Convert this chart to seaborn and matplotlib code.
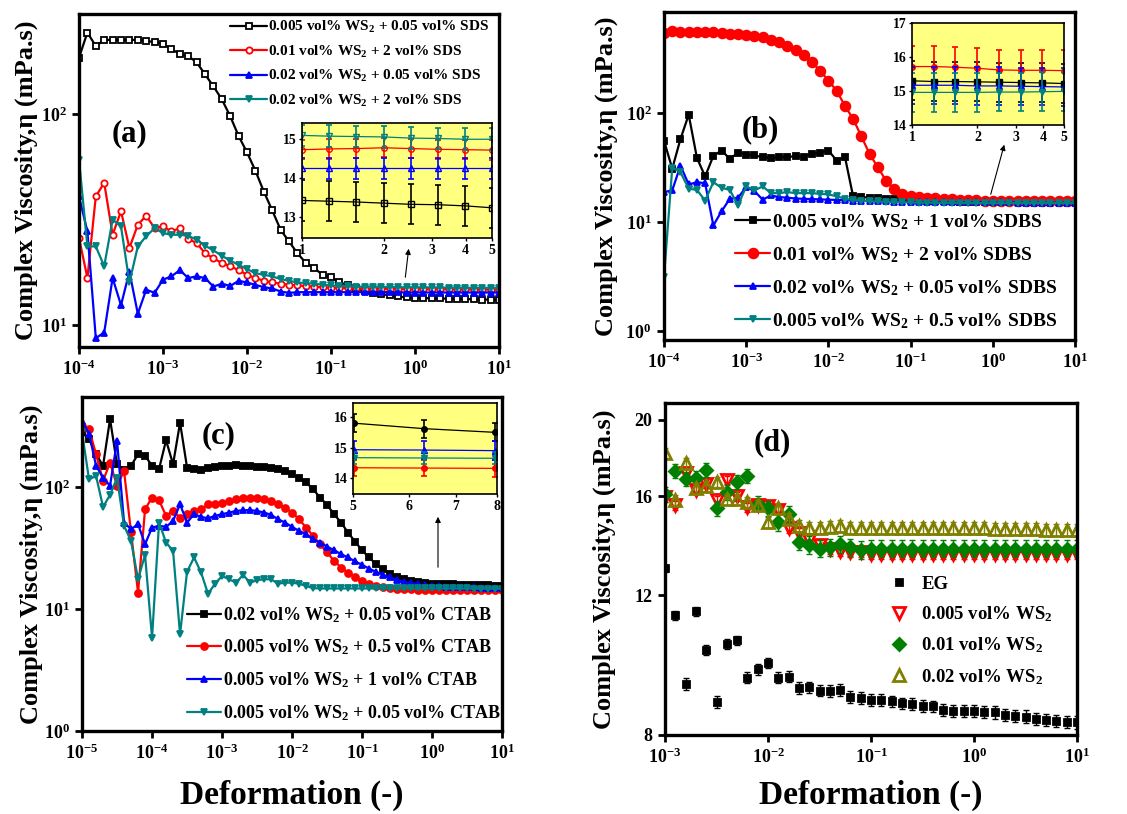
import numpy as np
import matplotlib
matplotlib.use('Agg')
import matplotlib.pyplot as plt
import seaborn as sns
from matplotlib.ticker import LogLocator, NullLocator, FixedLocator, FixedFormatter

# ---------------- data ----------------
# deformation sweeps, 10 points per decade
x_ab = np.logspace(-4, 1, 51)
x_c = np.logspace(-5, 1, 61)
x_d = np.logspace(-3, 1, 41)

# (a) SDS
a_black = [186, 245, 211, 226, 226, 226, 226, 226, 223, 221,
           217, 204, 194, 189, 177, 155, 136, 118, 98, 79,
           66, 54, 43, 35, 28.3, 24.9, 21.9, 19.7, 18.6, 17.3,
           16.8, 16.0, 15.4, 14.9, 14.5, 14.2, 14.0, 13.8, 13.65, 13.5,
           13.42, 13.40, 13.38, 13.35, 13.32, 13.31, 13.28, 13.23, 13.2, 13.18,
           13.15]
a_red = [25.9, 16.7, 40.8, 47.3, 26.8, 34.7, 23.2, 29.9, 33, 28.8,
         29.4, 27.8, 28.8, 25.6, 24.5, 21.9, 20.7, 19.7, 19.0, 18.2,
         17.3, 16.7, 16.2, 15.9, 15.7, 15.5, 15.4, 15.3, 15.2, 15.1,
         15.0, 15.0, 14.9, 14.9, 14.85, 14.8, 14.8, 14.8, 14.8, 14.75,
         14.73, 14.75, 14.76, 14.78, 14.76, 14.74, 14.73, 14.72, 14.72, 14.71,
         14.7]
a_blue = [40.8, 27.8, 8.65, 9.2, 16.7, 12.4, 17.9, 11.3, 14.7, 14.2,
          16.4, 17.0, 18.2, 16.7, 17.0, 16.7, 15.2, 15.7, 15.3, 16.2,
          15.9, 15.5, 15.1, 14.9, 14.4, 14.2, 14.3, 14.3, 14.3, 14.3,
          14.3, 14.3, 14.3, 14.3, 14.3, 14.3, 14.3, 14.3, 14.3, 14.25,
          14.25, 14.25, 14.25, 14.25, 14.25, 14.25, 14.25, 14.25, 14.25, 14.25,
          14.25]
a_teal = [61, 23.6, 23.6, 19.0, 31.6, 29.4, 15.9, 23.6, 26.4, 28.8,
          27.3, 26.8, 26.8, 26.5, 25.4, 23.8, 22.6, 21.3, 20.2, 19.3,
          18.4, 17.6, 17.3, 17.0, 16.5, 16.2, 15.9, 15.8, 15.7, 15.5,
          15.4, 15.3, 15.3, 15.2, 15.2, 15.2, 15.15, 15.15, 15.1, 15.1,
          15.1, 15.08, 15.07, 15.06, 15.03, 15.02, 15.0, 15.0, 15.0, 15.0,
          15.0]
a_labels = ['0.005 vol% WS$_2$ + 0.05 vol% SDS', '0.01 vol% WS$_2$ + 2 vol% SDS',
            '0.02 vol% WS$_2$ + 0.05 vol% SDS', '0.02 vol% WS$_2$ + 2 vol% SDS']
a_err = [0.52, 0.25, 0.27, 0.28]

# (b) SDBS
b_black = [56, 31, 58, 97, 39, 26.3, 40.6, 45.5, 38.2, 43.4,
           41.8, 41, 39.5, 39, 39.5, 39.8, 40.2, 39.8, 42.4, 43.4,
           45.5, 36.8, 40, 17.3, 17.0, 16.8, 16.6, 16.5, 16.4, 16.2,
           16.0, 15.9, 15.8, 15.7, 15.6, 15.5, 15.45, 15.4, 15.35, 15.33,
           15.3, 15.28, 15.28, 15.27, 15.26, 15.25, 15.24, 15.22, 15.22, 15.21,
           15.2]
b_red = [545, 565, 560, 558, 558, 555, 555, 545, 533, 533,
         525, 514, 497, 473, 447, 411, 383, 342, 293, 246,
         199, 161, 117, 88.7, 61.5, 42.4, 32, 24.1, 20.3, 18.2,
         17.3, 17.0, 16.8, 16.6, 16.4, 16.2, 16.1, 16.0, 15.9, 15.8,
         15.72, 15.72, 15.7, 15.67, 15.62, 15.61, 15.61, 15.6, 15.6, 15.6,
         15.6]
b_blue = [18.9, 19.6, 33.1, 22.2, 23.3, 22.8, 9.35, 12.6, 16.4, 16.8,
          21, 19.3, 16.1, 17.6, 17.0, 16.8, 16.5, 16.4, 16.3, 16.2,
          16.1, 16.0, 15.9, 15.8, 15.7, 15.6, 15.5, 15.5, 15.4, 15.4,
          15.3, 15.3, 15.3, 15.25, 15.2, 15.2, 15.2, 15.2, 15.2, 15.18,
          15.17, 15.17, 15.17, 15.15, 15.15, 15.14, 15.13, 15.12, 15.12, 15.12,
          15.12]
b_teal = [3.15, 31.6, 28.8, 20.3, 19.8, 15.8, 23.3, 20.7, 19.8, 14.3,
          21.3, 19.6, 21.3, 18.5, 18.5, 18.9, 18.5, 18.5, 18.5, 18.2,
          18.0, 17.3, 16.4, 16.0, 15.8, 15.6, 15.5, 15.4, 15.3, 15.2,
          15.2, 15.1, 15.1, 15.05, 15.0, 15.0, 15.0, 15.0, 14.98, 14.97,
          14.96, 14.96, 14.96, 14.96, 14.97, 14.97, 14.98, 14.99, 14.99, 15.0,
          15.0]
b_labels = ['0.005 vol% WS$_2$ + 1 vol% SDBS', '0.01 vol% WS$_2$ + 2 vol% SDBS',
            '0.02 vol% WS$_2$ + 0.05 vol% SDBS', '0.005 vol% WS$_2$ + 0.5 vol% SDBS']
b_err = [0.57, 0.6, 0.55, 0.57]

# (c) CTAB
c_black = [279, 246, 185, 149, 359, 153, 137, 149, 185, 180,
           149, 140, 241, 153, 336, 144, 140, 138, 142, 146,
           147, 147, 150, 149, 148, 146, 146, 144, 140, 135,
           127, 118, 109, 95.7, 81.7, 71.2, 59.7, 51, 42.2, 35.6,
           30.2, 26.4, 23.2, 21.1, 19.5, 18.3, 17.5, 17.0, 16.6, 16.3,
           16.1, 16.0, 15.95, 15.9, 15.85, 15.82, 15.8, 15.8, 15.62, 15.5,
           15.45]
c_red = [316, 297, 185, 112, 158, 102, 135, 42.3, 13.6, 65.6,
         81.8, 77.7, 57.9, 63.5, 56, 59.7, 63.5, 65.6, 72, 72,
         74.4, 76.8, 79.2, 80.8, 80.8, 80.8, 79.2, 76.8, 72, 67.7,
         61.6, 54.3, 46.4, 39.7, 33.9, 29, 24.8, 21.8, 19.8, 18.1,
         17.0, 15.9, 15.4, 15.0, 14.7, 14.6, 14.5, 14.5, 14.4, 14.4,
         14.4, 14.4, 14.35, 14.35, 14.35, 14.35, 14.34, 14.34, 14.33, 14.32,
         14.3]
c_blue = [347, 273, 149, 119, 102, 238, 51, 45, 49.4, 33.9,
          46.4, 48, 47, 52.6, 72, 51, 59.7, 56.8, 55.3, 57.9,
          59.7, 61.6, 63.5, 64.4, 64.4, 63.5, 61.6, 59, 54.3, 51,
          47, 43.6, 40.9, 37.3, 35, 32.4, 30.3, 28.1, 26.4, 24.5,
          23, 21.4, 20.1, 19.0, 18.1, 17.3, 16.7, 16.2, 15.9, 15.6,
          15.4, 15.3, 15.2, 15.15, 15.1, 15.05, 15.0, 14.93, 14.92, 14.9,
          14.88]
c_teal = [279, 115, 123, 68.5, 86, 118, 48, 36, 17.5, 27.7,
          5.8, 51, 35, 29.9, 6.2, 20.2, 26.4, 19.9, 13.3, 16.1,
          18.6, 17.5, 16.4, 19.0, 16.4, 17.2, 17.5, 17.5, 16.1, 16.4,
          16.4, 16.1, 15.4, 14.8, 14.7, 14.7, 14.7, 14.7, 14.7, 14.7,
          14.7, 14.7, 14.7, 14.7, 14.7, 14.7, 14.7, 14.7, 14.7, 14.7,
          14.7, 14.7, 14.7, 14.7, 14.7, 14.7, 14.68, 14.67, 14.66, 14.65,
          14.65]
c_labels = ['0.02 vol% WS$_2$ + 0.05 vol% CTAB', '0.005 vol% WS$_2$ + 0.5 vol% CTAB',
            '0.005 vol% WS$_2$ + 1 vol% CTAB', '0.005 vol% WS$_2$ + 0.05 vol% CTAB']
c_err = [0.3, 0.27, 0.3, 0.2]

# (d) WS2 in EG
d_eg = [12.98, 11.33, 9.28, 11.47, 10.25, 8.80, 10.43, 10.53, 9.45, 9.68,
        9.86, 9.45, 9.48, 9.17, 9.19, 9.10, 9.09, 9.12, 8.94, 8.91,
        8.86, 8.86, 8.82, 8.77, 8.75, 8.70, 8.69, 8.61, 8.58, 8.58,
        8.58, 8.56, 8.54, 8.48, 8.46, 8.44, 8.38, 8.35, 8.33, 8.31,
        8.30]
d_red = [15.96, 15.6, 17.15, 16.31, 16.6, 15.84, 16.8, 16.0, 15.5, 15.6,
         15.55, 15.4, 14.59, 14.4, 14.1, 13.9, 13.75, 13.64, 13.6, 13.6,
         13.55, 13.55, 13.55, 13.55, 13.55, 13.55, 13.55, 13.55, 13.55, 13.55,
         13.55, 13.55, 13.55, 13.55, 13.55, 13.55, 13.55, 13.55, 13.55, 13.55,
         13.55]
d_green = [16.1, 17.25, 16.83, 16.88, 17.3, 15.46, 16.2, 16.7, 17.0, 15.67,
           15.46, 14.84, 15.2, 14.03, 13.9, 13.75, 13.8, 13.93, 13.8, 13.7,
           13.75, 13.75, 13.75, 13.75, 13.75, 13.75, 13.75, 13.75, 13.75, 13.75,
           13.75, 13.75, 13.75, 13.75, 13.75, 13.75, 13.75, 13.75, 13.75, 13.75,
           13.75]
d_olive = [18.15, 15.84, 17.62, 16.4, 16.5, 16.7, 15.87, 15.87, 15.73, 15.6,
           14.84, 15.46, 15.0, 14.7, 14.6, 14.6, 14.66, 14.7, 14.6, 14.6,
           14.6, 14.6, 14.6, 14.6, 14.6, 14.6, 14.6, 14.6, 14.6, 14.6,
           14.6, 14.6, 14.55, 14.55, 14.55, 14.55, 14.55, 14.5, 14.5, 14.5,
           14.5]
d_labels = ['EG', '0.005 vol% WS$_2$', '0.01 vol% WS$_2$', '0.02 vol% WS$_2$']
d_err = [0.15, 0.2, 0.35, 0.25]

# ---------------- style ----------------
sns.set_style('ticks')
plt.rcParams['font.family'] = ['Liberation Serif', 'DejaVu Serif']
plt.rcParams['font.weight'] = 'bold'
plt.rcParams['mathtext.fontset'] = 'custom'
plt.rcParams['mathtext.rm'] = 'Liberation Serif:bold'
plt.rcParams['mathtext.bf'] = 'Liberation Serif:bold'
plt.rcParams['mathtext.it'] = 'Liberation Serif:bold:italic'
plt.rcParams['mathtext.default'] = 'bf'
for k in ['axes.edgecolor', 'xtick.color', 'ytick.color', 'text.color', 'axes.labelcolor']:
    plt.rcParams[k] = 'black'

BLACK, RED, BLUE, TEAL = '#000000', '#FF0000', '#0000FF', '#008080'
GREEN, OLIVE = '#008000', '#808000'
YELLOW = '#FFFF80'
ylab = 'Complex Viscosity,\u03b7 (mPa.s)'

fig = plt.figure(figsize=(11.27, 8.14), dpi=100)


def style_main(ax, xlim, ylim):
    ax.set_xscale('log')
    ax.set_yscale('log')
    ax.set_xlim(*xlim)
    ax.set_ylim(*ylim)
    ax.xaxis.set_major_locator(LogLocator(base=10, numticks=20))
    ax.yaxis.set_major_locator(LogLocator(base=10, numticks=20))
    ax.xaxis.set_minor_locator(NullLocator())
    ax.yaxis.set_minor_locator(NullLocator())
    ax.tick_params(direction='out', length=5, width=2, labelsize=13, pad=4)
    for s in ax.spines.values():
        s.set_linewidth(2.4)
    ax.set_xlabel('')
    ax.set_ylabel(ylab, fontsize=19, fontweight='bold')


def draw_series(ax, x, ys, colors, markers, faces, ms, labels=None):
    for i, y in enumerate(ys):
        sns.lineplot(x=x, y=y, ax=ax, color=colors[i], linewidth=1.6,
                     marker=markers[i], markersize=ms, markerfacecolor=faces[i],
                     markeredgecolor=colors[i], markeredgewidth=1.3,
                     label=labels[i] if labels else None, legend=bool(labels))


def draw_inset(rect, x, ys, errs, colors, markers, faces, xlim, ylim, xt, yt):
    ins = fig.add_axes(rect)
    ins.set_facecolor(YELLOW)
    for i, y in enumerate(ys):
        sns.lineplot(x=x, y=y, ax=ins, color=colors[i], linewidth=0.9,
                     marker=markers[i], markersize=4, markerfacecolor=faces[i],
                     markeredgecolor=colors[i], markeredgewidth=1, legend=False)
        ins.errorbar(x, y, yerr=errs[i], fmt='none', ecolor=colors[i],
                     elinewidth=1.2, capsize=2.5, capthick=1.2)
    ins.set_xscale('log')
    ins.set_xlim(*xlim)
    ins.set_ylim(*ylim)
    ins.xaxis.set_major_locator(FixedLocator(xt))
    ins.xaxis.set_major_formatter(FixedFormatter([str(v) for v in xt]))
    ins.xaxis.set_minor_locator(NullLocator())
    ins.yaxis.set_major_locator(FixedLocator(yt))
    ins.tick_params(direction='out', length=2.5, width=1, labelsize=10, pad=1.5)
    for s in ins.spines.values():
        s.set_linewidth(1.2)
    ins.set_xlabel('')
    ins.set_ylabel('')
    return ins


def arrow(tail, tip):
    # tail / tip in figure pixels measured from the top-left corner
    fig.add_artist(matplotlib.patches.FancyArrowPatch(
        (tail[0] / 1127, 1 - tail[1] / 814), (tip[0] / 1127, 1 - tip[1] / 814),
        transform=fig.transFigure, arrowstyle='-|>', mutation_scale=8,
        lw=0.8, color='black'))


cols4 = [BLACK, RED, BLUE, TEAL]

# ---------------- (a) ----------------
ax_a = fig.add_axes([0.0701, 0.5737, 0.3727, 0.4091])
draw_series(ax_a, x_ab, [a_black, a_red, a_blue, a_teal], cols4,
            ['s', 'o', '^', 'v'], ['white', 'white', BLUE, TEAL], 4.5, a_labels)
style_main(ax_a, (1e-4, 10), (7.85, 300))
ax_a.yaxis.set_label_coords(-0.098, 0.5)
ax_a.legend(loc='upper left', bbox_to_anchor=(0.36, 0.985), frameon=False,
            prop={'weight': 'bold', 'size': 11}, handlelength=2.4,
            handletextpad=0.1, labelspacing=0.55, borderpad=0, borderaxespad=0)
ax_a.text(0.12, 0.64, '(a)', transform=ax_a.transAxes, fontsize=22,
          fontweight='bold', ha='center', va='center')
draw_inset([0.268, 0.7076, 0.1686, 0.1413], x_ab[40:48],
           [a_black[40:48], a_red[40:48], a_blue[40:48], a_teal[40:48]], a_err,
           cols4, ['s', 'o', '^', 'v'], ['none', 'none', 'none', 'none'],
           (1, 5), (12.45, 15.42), [1, 2, 3, 4, 5], [13, 14, 15])
arrow((405, 280), (409, 246))

# ---------------- (b) ----------------
ax_b = fig.add_axes([0.5892, 0.5823, 0.3647, 0.4030])
draw_series(ax_b, x_ab, [b_black, b_red, b_blue, b_teal], cols4,
            ['s', 'o', '^', 'v'], cols4, 5, b_labels)
ax_b.lines[1].set_markersize(7)
style_main(ax_b, (1e-4, 10), (0.83, 850))
ax_b.yaxis.set_label_coords(-0.112, 0.5)
ax_b.legend(loc='upper left', bbox_to_anchor=(0.173, 0.39), frameon=False,
            prop={'weight': 'bold', 'size': 14}, handlelength=1.8,
            handletextpad=0.1, labelspacing=0.68, borderpad=0, borderaxespad=0)
ax_b.text(0.235, 0.64, '(b)', transform=ax_b.transAxes, fontsize=22,
          fontweight='bold', ha='center', va='center')
draw_inset([0.8092, 0.8464, 0.1349, 0.1253], x_ab[40:48],
           [b_black[40:48], b_red[40:48], b_blue[40:48], b_teal[40:48]], b_err,
           cols4, ['s', 'o', '^', 'v'], cols4,
           (1, 5), (14, 17), [1, 2, 3, 4, 5], [14, 15, 16, 17])
arrow((990, 197), (1005, 142))

# ---------------- (c) ----------------
ax_c = fig.add_axes([0.0728, 0.1020, 0.3727, 0.4103])
draw_series(ax_c, x_c, [c_black, c_red, c_blue, c_teal], cols4,
            ['s', 'o', '^', 'v'], cols4, 5, c_labels)
style_main(ax_c, (1e-5, 10), (1, 545))
ax_c.yaxis.set_label_coords(-0.094, 0.5)
ax_c.set_xlabel('Deformation (-)', fontsize=24, fontweight='bold')
ax_c.xaxis.set_label_coords(0.5, -0.146)
ax_c.legend(loc='upper left', bbox_to_anchor=(0.25, 0.377), frameon=False,
            prop={'weight': 'bold', 'size': 13}, handlelength=1.9,
            handletextpad=0.1, labelspacing=0.72, borderpad=0, borderaxespad=0)
ax_c.text(0.325, 0.885, '(c)', transform=ax_c.transAxes, fontsize=22,
          fontweight='bold', ha='center', va='center')
draw_inset([0.3132, 0.3931, 0.1278, 0.1118], x_c[57:60],
           [c_black[57:60], c_red[57:60], c_blue[57:60], c_teal[57:60]], c_err,
           cols4, ['o', 'o', '^', 'v'], cols4,
           (5, 8), (13.48, 16.46), [5, 6, 7, 8], [14, 15, 16])
arrow((438, 570), (438, 514))

# ---------------- (d) ----------------
ax_d = fig.add_axes([0.5901, 0.0971, 0.3656, 0.4079])
d_series = [d_eg, d_red, d_green, d_olive]
d_cols = [BLACK, RED, GREEN, OLIVE]
d_marks = ['s', 'v', 'D', '^']
d_faces = [BLACK, 'none', GREEN, 'none']
d_ms = [5, 9, 6.5, 9]
for i, y in enumerate(d_series):
    ax_d.errorbar(x_d, y, yerr=d_err[i], fmt='none', ecolor=d_cols[i],
                  elinewidth=1, capsize=2.5, capthick=1)
    sns.lineplot(x=x_d, y=y, ax=ax_d, color=d_cols[i], linestyle='',
                 marker=d_marks[i], markersize=d_ms[i], markerfacecolor=d_faces[i],
                 markeredgecolor=d_cols[i], markeredgewidth=2, label=d_labels[i])
ax_d.set_xscale('log')
ax_d.set_yscale('log')
ax_d.set_xlim(1e-3, 10)
ax_d.set_ylim(8, 21)
ax_d.xaxis.set_major_locator(LogLocator(base=10, numticks=20))
ax_d.xaxis.set_minor_locator(NullLocator())
ax_d.yaxis.set_major_locator(FixedLocator([8, 12, 16, 20]))
ax_d.yaxis.set_major_formatter(FixedFormatter(['8', '12', '16', '20']))
ax_d.yaxis.set_minor_locator(NullLocator())
ax_d.tick_params(direction='out', length=5, width=2, labelsize=13, pad=4)
for s in ax_d.spines.values():
    s.set_linewidth(2.4)
ax_d.set_ylabel(ylab, fontsize=19, fontweight='bold')
ax_d.yaxis.set_label_coords(-0.118, 0.5)
ax_d.set_xlabel('Deformation (-)', fontsize=24, fontweight='bold')
ax_d.xaxis.set_label_coords(0.5, -0.134)
ax_d.legend(loc='upper left', bbox_to_anchor=(0.54, 0.48), frameon=False,
            prop={'weight': 'bold', 'size': 13.5}, handlelength=1.2,
            handletextpad=0.6, labelspacing=0.62, borderpad=0, borderaxespad=0)
ax_d.text(0.26, 0.88, '(d)', transform=ax_d.transAxes, fontsize=22,
          fontweight='bold', ha='center', va='center')

fig.savefig('out.png', dpi=100)
